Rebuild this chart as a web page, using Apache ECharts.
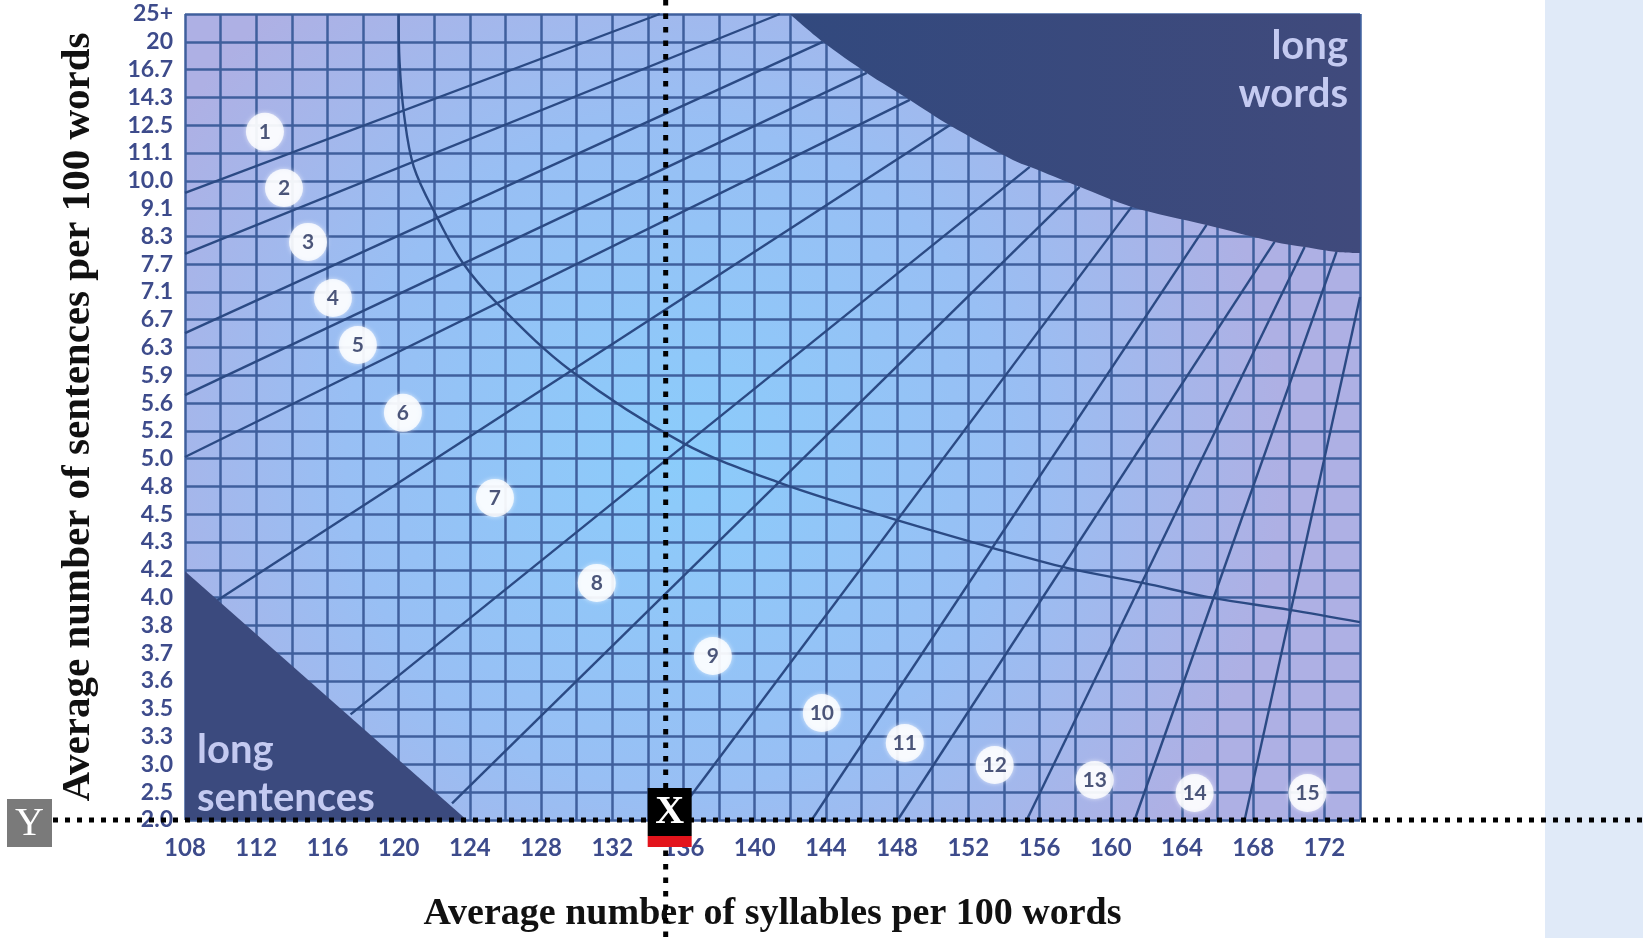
<!DOCTYPE html>
<html><head><meta charset="utf-8">
<script src="https://cdn.jsdelivr.net/npm/echarts@6/dist/echarts.min.js"></script>
<style>html,body{margin:0;padding:0;background:#fff;overflow:hidden}#c{width:1643px;height:938px;}</style>
</head><body><div id="c"></div>
<script>
// ---- data (x: syllables per 100 words, y: row index of sentence label) ----
const xMin = 108, xMax = 174, xStep = 2, xLabelStep = 4;
const yLabels = ['2.0','2.5','3.0','3.3','3.5','3.6','3.7','3.8','4.0','4.2','4.3','4.5','4.8','5.0','5.2','5.6','5.9','6.3','6.7','7.1','7.7','8.3','9.1','10.0','11.1','12.5','14.3','16.7','20','25+'];

const line1  = [[108,22.56],[134.67,29]];
const line2  = [[108,20.37],[141.41,29]];
const line3  = [[108,17.52],[143.82,28.0]];
const line4  = [[108,15.29],[146.29,26.88]];
const line5  = [[108,13.06],[148.71,25.91]];
const line6  = [[109.8,7.9],[150.95,25.0]];
const line7  = [[117.3,3.8],[155.45,23.5]];
const line8  = [[123.0,0.6],[158.25,22.78]];
const line9  = [[135.4,0],[161.17,22.06]];
const line10 = [[143.2,0],[165.38,21.41]];
const line11 = [[148.03,0],[169.2,20.8]];
const line12 = [[155.28,0],[170.89,20.62]];
const line13 = [[161.34,0],[172.68,20.44]];
const line14 = [[167.52,0],[174,18.82]];
const gradeLines = [line1,line2,line3,line4,line5,line6,line7,line8,line9,line10,line11,line12,line13,line14];

const curve = [[120.0,29],[120.05,27.3],[120.3,25.4],[120.85,23.5],[122.15,21.7],[123.61,20.04],[125.52,18.6],[129.62,16.19],[135.96,13.57],[141.41,12.13],[147.02,10.98],[153.2,9.82],[157.52,9.07],[161.79,8.53],[165.72,7.99],[170.04,7.56],[174,7.12]];

const longWordsEdge = [[141.97,29],[143.82,28.0],[146.29,26.88],[148.71,25.91],[150.95,25.0],[154.5,23.75],[155.45,23.5],[158.25,22.78],[161.17,22.06],[165.38,21.41],[169.2,20.8],[170.89,20.62],[172.68,20.44],[174,20.4]];
const longSentencesEdge = [[108,8.95],[123.83,0]];

const gradeNames = ['1','2','3','4','5','6','7','8','9','10','11','12','13','14','15'];
const gradeX = [112.49,113.56,114.91,116.31,117.71,120.24,125.41,131.13,137.65,143.77,148.43,153.48,159.1,164.71,171.05];
const gradeY = [24.76,22.74,20.8,18.78,17.09,14.65,11.59,8.53,5.9,3.85,2.77,1.98,1.44,0.97,0.97];

const markerX = 135;      // X marker on syllable axis
const markerYIndex = 0;   // Y marker at "2.0"

// ---- chart ----
const chart = echarts.init(document.getElementById('c'), null, {renderer:'canvas'});
const lineColor = '#2b4a84';
const series = [];
gradeLines.forEach(l => series.push({
  type:'line', data:l, symbol:'none', z:3, silent:true,
  lineStyle:{color:lineColor, width:2.4}
}));
series.push({type:'line', data:curve, symbol:'none', smooth:0.35, z:3, silent:true,
  lineStyle:{color:lineColor, width:2.4}});
series.push({type:'line', data:longWordsEdge, symbol:'none', smooth:0.3, z:5, silent:true,
  lineStyle:{width:0, color:'#3a4a7e'},
  areaStyle:{origin:'end', opacity:1, color:{type:'linear',x:0,y:0,x2:1,y2:0,colorStops:[{offset:0,color:'#32497e'},{offset:1,color:'#404a7c'}]}}});
series.push({type:'line', data:longSentencesEdge, symbol:'none', z:5, silent:true,
  lineStyle:{width:0, color:'#3b4a7e'},
  areaStyle:{origin:'start', opacity:1, color:'#3b4a7e'}});
series.push({type:'scatter', z:8, silent:true,
  data: gradeNames.map((g,i)=>({value:[gradeX[i],gradeY[i]], name:g})),
  symbol:'circle', symbolSize:38,
  itemStyle:{color:'#ffffff', shadowBlur:4, shadowColor:'rgba(255,255,255,0.8)'},
  label:{show:true, position:'inside', formatter:p=>p.name, color:'#1f2c58', fontSize:21, fontWeight:'bold', fontFamily:'Lato'}
});

const labelColor = '#3d4b8b';
chart.setOption({
  animation:false,
  grid:{left:185, right:283, top:14, bottom:118, show:true, borderWidth:0, z:0,
    backgroundColor:{type:'radial', x:0.42, y:0.55, r:0.75, colorStops:[{offset:0,color:'#8bccfb'},{offset:0.55,color:'#98bff4'},{offset:1,color:'#aeb0e4'}]}},
  xAxis:{type:'value', min:xMin, max:xMax, interval:xStep,
    name:'Average number of syllables per 100 words', nameLocation:'middle', nameGap:75,
    nameTextStyle:{fontFamily:'Liberation Serif', fontWeight:'bold', fontSize:38, color:'#111'},
    axisLine:{show:false}, axisTick:{show:false},
    axisLabel:{margin:16, fontSize:24, fontFamily:'Lato', fontWeight:'bold', color:labelColor,
      formatter:v=>((v-xMin)%xLabelStep===0 && v<xMax)?String(v):''},
    splitLine:{show:true, lineStyle:{color:'#3f5f9d', width:2.5}}
  },
  yAxis:{type:'value', min:0, max:yLabels.length-1, interval:1,
    name:'Average number of sentences per 100 words', nameLocation:'middle', nameGap:86, nameRotate:90,
    nameTextStyle:{fontFamily:'Liberation Serif', fontWeight:'bold', fontSize:41, color:'#111'},
    axisLine:{show:false}, axisTick:{show:false},
    axisLabel:{margin:12, fontSize:23, fontFamily:'Lato', fontWeight:'bold', color:labelColor, formatter:v=>yLabels[v]??''},
    splitLine:{show:true, lineStyle:{color:'#3f5f9d', width:2.5}}
  },
  series
});

// ---- annotations positioned through the axes ----
const W = chart.getWidth(), H = chart.getHeight();
const gx = chart.convertToPixel({xAxisIndex:0}, markerX);
const gy = chart.convertToPixel({yAxisIndex:0}, markerYIndex);
const pxR = chart.convertToPixel({xAxisIndex:0}, xMax);
const pxL = chart.convertToPixel({xAxisIndex:0}, xMin);
const pyT = chart.convertToPixel({yAxisIndex:0}, yLabels.length-1);
const regionFont = {fontFamily:'Lato', fontWeight:'bold', fontSize:40, fill:'#c4caf1'};
chart.setOption({graphic:[
  {type:'rect', shape:{x:W-98, y:0, width:98, height:H}, style:{fill:'#e0eaf8'}, z:1, silent:true},
  {type:'text', style:Object.assign({text:'long', x:pxR-12, y:pyT+32, align:'right', verticalAlign:'middle'}, regionFont), z:20, silent:true},
  {type:'text', style:Object.assign({text:'words', x:pxR-12, y:pyT+80, align:'right', verticalAlign:'middle'}, regionFont), z:20, silent:true},
  {type:'text', style:Object.assign({text:'long', x:pxL+12, y:gy-70, align:'left', verticalAlign:'middle'}, regionFont), z:20, silent:true},
  {type:'text', style:Object.assign({text:'sentences', x:pxL+12, y:gy-22, align:'left', verticalAlign:'middle'}, regionFont), z:20, silent:true},
  {type:'line', shape:{x1:gx, y1:0, x2:gx, y2:H}, style:{stroke:'#000', lineWidth:5, lineDash:[5.5,8]}, z:30, silent:true},
  {type:'line', shape:{x1:53, y1:gy, x2:W, y2:gy}, style:{stroke:'#000', lineWidth:5, lineDash:[5,7]}, z:30, silent:true},
  {type:'rect', shape:{x:7, y:gy-21, width:45, height:48}, style:{fill:'#7a7a7a'}, z:31, silent:true},
  {type:'text', style:{text:'Y', x:29.5, y:gy+4, align:'center', verticalAlign:'middle', fontFamily:'Liberation Serif', fontSize:40, fill:'#fff'}, z:32, silent:true},
  {type:'rect', shape:{x:gx-18, y:gy-32, width:44, height:48}, style:{fill:'#000'}, z:31, silent:true},
  {type:'rect', shape:{x:gx-18, y:gy+16, width:44, height:11}, style:{fill:'#e3141c'}, z:31, silent:true},
  {type:'text', style:{text:'X', x:gx+4, y:gy-7, align:'center', verticalAlign:'middle', fontFamily:'Liberation Serif', fontWeight:'bold', fontSize:40, fill:'#fff'}, z:32, silent:true}
]});
</script></body></html>
